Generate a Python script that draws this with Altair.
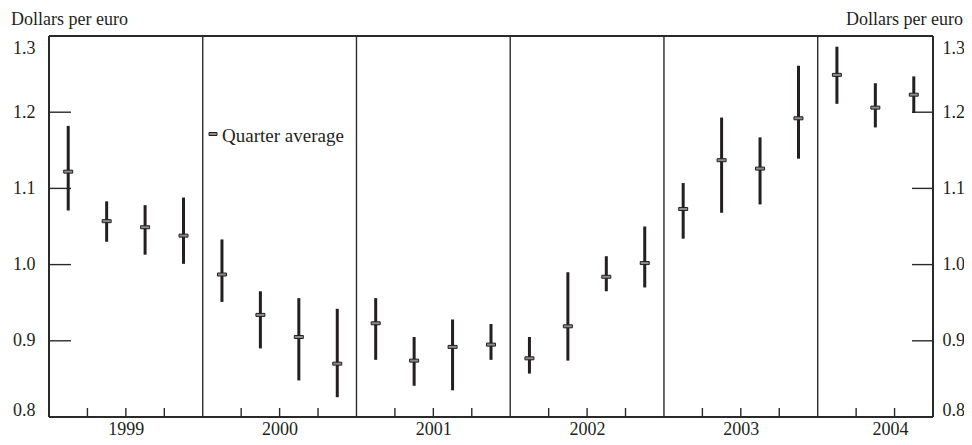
import altair as alt
import pandas as pd

# ---- data ----
years = [1999, 2000, 2001, 2002, 2003, 2004]
quarter_year = [1999]*4 + [2000]*4 + [2001]*4 + [2002]*4 + [2003]*4 + [2004]*3
quarter_num = [1, 2, 3, 4]*5 + [1, 2, 3]
high = [1.182, 1.083, 1.078, 1.088,
        1.033, 0.965, 0.956, 0.942,
        0.956, 0.905, 0.928, 0.922,
        0.905, 0.990, 1.011, 1.050,
        1.107, 1.193, 1.167, 1.261,
        1.286, 1.238, 1.247]
low = [1.071, 1.030, 1.013, 1.001,
       0.951, 0.890, 0.848, 0.826,
       0.875, 0.841, 0.835, 0.875,
       0.857, 0.874, 0.965, 0.970,
       1.034, 1.068, 1.079, 1.139,
       1.211, 1.180, 1.199]
avg = [1.122, 1.057, 1.049, 1.038,
       0.987, 0.934, 0.905, 0.870,
       0.923, 0.874, 0.892, 0.895,
       0.877, 0.919, 0.984, 1.002,
       1.073, 1.137, 1.126, 1.192,
       1.249, 1.206, 1.223]
y_ticks = [0.8, 0.9, 1.0, 1.1, 1.2, 1.3]
x_range = [1999, 2004.75]
y_range = [0.8, 1.3]
y_title = "Dollars per euro"
legend_label = "Quarter average"

df = pd.DataFrame({
    "t": [y + (q - 0.5) / 4 for y, q in zip(quarter_year, quarter_num)],
    "high": high, "low": low, "avg": avg,
})
year_lines = pd.DataFrame({"t": years[1:]})
qtr_ticks = pd.DataFrame({"t": [y + q / 4 for y in years for q in (1, 2, 3) if y + q / 4 < x_range[1]]})
yt = pd.DataFrame({"v": y_ticks})

W, H = 884, 381
FONT = "Liberation Serif"
INK = "#231f20"
LINE = "#2a2a2a"
FW = 2

xs = alt.Scale(domain=x_range, nice=False, zero=False)
ys = alt.Scale(domain=y_range, nice=False, zero=False)

label_off = "datum.value > 1.25 ? 12 : (datum.value < 0.85 ? -7 : 0)"

# plot frame: horizontal edges at the y-range ends, vertical edges at the x-range ends
frame_h = alt.Chart(pd.DataFrame({"v": y_range})).mark_rule(
    color=LINE, strokeWidth=FW
).encode(y=alt.Y("v:Q", scale=ys, axis=None), x=alt.value(0), x2=alt.value(W))
frame_v = alt.Chart(pd.DataFrame({"t": x_range})).mark_rule(
    color=LINE, strokeWidth=FW
).encode(x=alt.X("t:Q", scale=xs, axis=None))

bars = alt.Chart(df).mark_rule(color=INK, strokeWidth=3).encode(
    x=alt.X("t:Q", scale=xs, axis=alt.Axis(
        values=[1999.5, 2000.5, 2001.5, 2002.5, 2003.5, 2004.47],
        labelExpr="floor(datum.value)", ticks=False, domain=False, grid=False,
        labelFont=FONT, labelFontSize=18, labelColor=INK, labelPadding=3,
        labelFlush=False, title=None)),
    y=alt.Y("low:Q", scale=ys, axis=alt.Axis(
        orient="left", values=y_ticks, format=".1f", ticks=False, domain=False,
        grid=False, labelFont=FONT, labelFontSize=18, labelColor=INK,
        labelPadding=14, labelOffset=alt.ExprRef(expr=label_off), title=None)),
    y2="high:Q",
)

avg_marks = alt.Chart(df).mark_tick(
    orient="horizontal", size=9, thickness=3, fill="#8c8c8c", stroke=INK,
    strokeWidth=1, filled=True, opacity=1
).encode(
    x=alt.X("t:Q", scale=xs, axis=None),
    y=alt.Y("avg:Q", scale=ys, axis=alt.Axis(
        orient="right", values=y_ticks, format=".1f", ticks=False, domain=False,
        grid=False, labelFont=FONT, labelFontSize=18, labelColor=INK,
        labelPadding=9, labelOffset=alt.ExprRef(expr=label_off), title=None)),
)

yr = alt.Chart(year_lines).mark_rule(color=LINE, strokeWidth=1.4).encode(
    x=alt.X("t:Q", scale=xs, axis=None)
)

qt = alt.Chart(qtr_ticks).mark_rule(color=LINE, strokeWidth=1.4).encode(
    x=alt.X("t:Q", scale=xs, axis=None),
    y=alt.value(H - 9), y2=alt.value(H),
)

lt = alt.Chart(yt).mark_rule(color=LINE, strokeWidth=1.4).encode(
    y=alt.Y("v:Q", scale=ys, axis=None), x=alt.value(0), x2=alt.value(22)
)
rt = alt.Chart(yt).mark_rule(color=LINE, strokeWidth=1.4).encode(
    y=alt.Y("v:Q", scale=ys, axis=None), x=alt.value(W - 21), x2=alt.value(W)
)

title_l = alt.Chart(pd.DataFrame({"s": [y_title]})).mark_text(
    font=FONT, fontSize=18, color=INK, align="left", baseline="alphabetic"
).encode(text="s:N", x=alt.value(-38), y=alt.value(-11))
title_r = alt.Chart(pd.DataFrame({"s": [y_title]})).mark_text(
    font=FONT, fontSize=18, color=INK, align="right", baseline="alphabetic"
).encode(text="s:N", x=alt.value(W + 30), y=alt.value(-11))

leg_mark = alt.Chart(pd.DataFrame({"s": [legend_label]})).mark_tick(
    orient="horizontal", size=8, thickness=3, fill="#8c8c8c", stroke=INK,
    strokeWidth=1, filled=True, opacity=1
).encode(x=alt.value(164), y=alt.value(98))
leg_text = alt.Chart(pd.DataFrame({"s": [legend_label]})).mark_text(
    font=FONT, fontSize=19, color=INK, align="left", baseline="middle"
).encode(text="s:N", x=alt.value(173), y=alt.value(100))

chart = alt.layer(
    frame_h, frame_v, yr, qt, lt, rt, bars, avg_marks,
    title_l, title_r, leg_mark, leg_text
).resolve_axis(y="independent", x="independent").properties(
    width=W, height=H,
    autosize=alt.AutoSizeParams(type="none"),
    padding={"left": 41, "top": 28, "right": 31, "bottom": 20},
).configure(background="white").configure_view(strokeWidth=0)

chart.save("out.html", embed_options={"renderer": "svg", "actions": False})
